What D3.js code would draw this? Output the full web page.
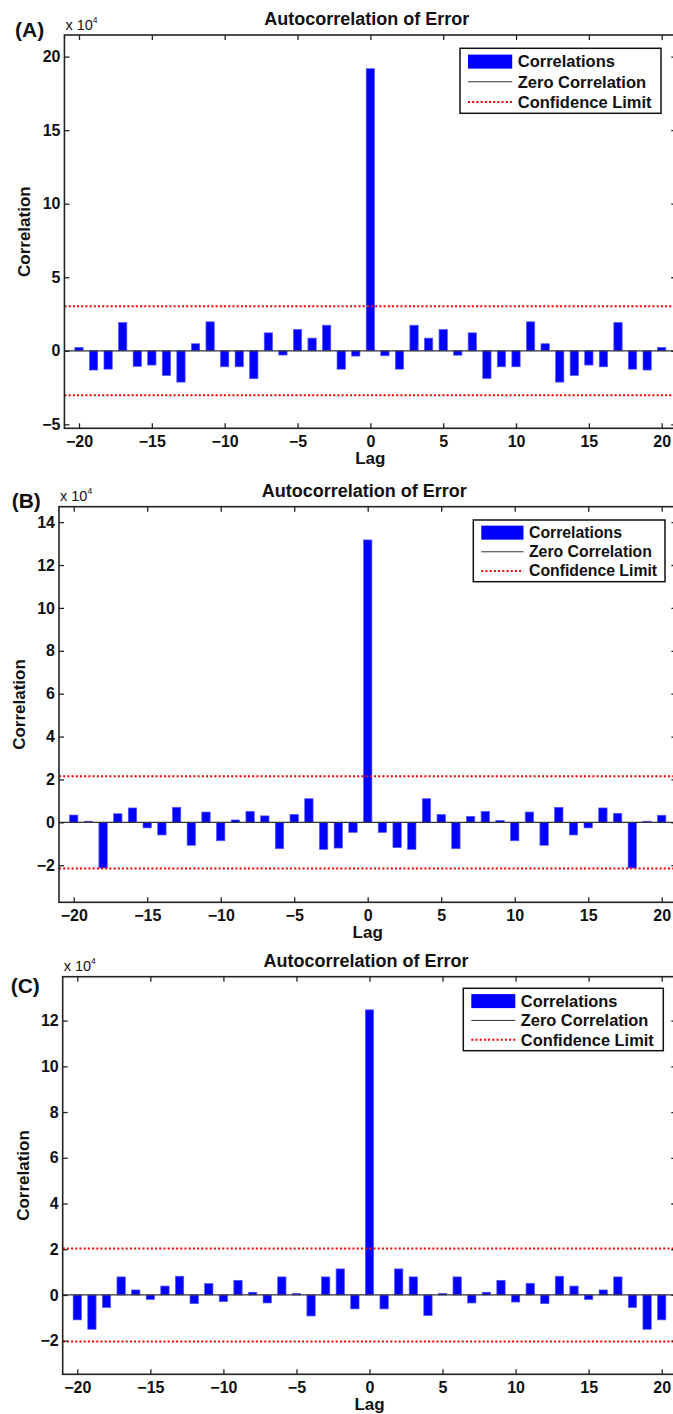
<!DOCTYPE html>
<html>
<head>
<meta charset="utf-8">
<script src="https://cdn.jsdelivr.net/npm/d3@7/dist/d3.min.js"></script>
<style>
  body { margin: 0; background: #fff; }
  text { font-family: "Liberation Sans", Arial, sans-serif; font-weight: bold; fill: #111; }
</style>
</head>
<body>
<svg id="chart" width="673" height="1414"></svg>
<script>
// Lags shown on the x axis
const lags = d3.range(-20, 21);
const xTicks = [-20, -15, -10, -5, 0, 5, 10, 15, 20];

// Autocorrelation values, in units of 10^4
const corrA = [0.23, -1.31, -1.25, 1.92, -1.06, -0.97, -1.68, -2.13, 0.48, 1.97,
               -1.09, -1.09, -1.90, 1.22, -0.29, 1.45, 0.86, 1.74, -1.25, -0.36,
               19.18,
               -0.34, -1.25, 1.74, 0.86, 1.45, -0.30, 1.22, -1.88, -1.09, -1.09,
               1.97, 0.48, -2.13, -1.68, -0.97, -1.09, 1.92, -1.25, -1.31, 0.23];
const corrB = [0.34, 0.05, -2.13, 0.40, 0.67, -0.26, -0.59, 0.70, -1.07, 0.48,
               -0.86, 0.11, 0.51, 0.30, -1.23, 0.37, 1.10, -1.26, -1.20, -0.47,
               13.17,
               -0.47, -1.18, -1.26, 1.10, 0.37, -1.23, 0.28, 0.51, 0.09, -0.86,
               0.48, -1.07, 0.70, -0.59, -0.26, 0.67, 0.42, -2.13, 0.05, 0.33];
const corrC = [-1.09, -1.50, -0.55, 0.79, 0.22, -0.20, 0.39, 0.82, -0.38, 0.50,
               -0.29, 0.64, 0.12, -0.35, 0.79, 0.07, -0.92, 0.79, 1.14, -0.61,
               12.47,
               -0.61, 1.14, 0.79, -0.90, 0.07, 0.79, -0.35, 0.12, 0.64, -0.31,
               0.51, -0.38, 0.82, 0.39, -0.20, 0.22, 0.79, -0.55, -1.50, -1.09];

// Confidence limits (+/-), in units of 10^4
const confLimits = [3.03, 2.15, 2.03];

// Y tick labels per panel
const yTicksA = [-5, 0, 5, 10, 15, 20];
const yTicksB = [-2, 0, 2, 4, 6, 8, 10, 12, 14];
const yTicksC = [-2, 0, 2, 4, 6, 8, 10, 12];

const panelLabels = ["(A)", "(B)", "(C)"];
const legendItems = ["Correlations", "Zero Correlation", "Confidence Limit"];

// layout of each panel (pixels)
const panels = [
  { values: corrA, yTicks: yTicksA, yDomain: [-5.27, 21.47], xPx: [79, 661.7], top: 35, bottom: 428.3,
    letter: [15, 37], legend: { x: 460, y: 48.3, w: 201, h: 65, font: 16.5 } },
  { values: corrB, yTicks: yTicksB, yDomain: [-3.73, 14.72], xPx: [73.7, 661.7], top: 506.7, bottom: 902.3,
    letter: [11.7, 508], legend: { x: 473.3, y: 520, w: 191.7, h: 61.7, font: 15.8 } },
  { values: corrC, yTicks: yTicksC, yDomain: [-3.47, 13.92], xPx: [77.3, 661.7], top: 976.7, bottom: 1374.3,
    letter: [10.7, 993], legend: { x: 463.3, y: 988.3, w: 200, h: 62.4, font: 16.4 } }
];

const svg = d3.select("#chart");

panels.forEach((p, i) => drawPanel(svg.append("g"), p, i));

function drawPanel(g, p, i) {
  const x = d3.scaleLinear().domain([-20, 20]).range(p.xPx);
  const y = d3.scaleLinear().domain(p.yDomain).range([p.bottom, p.top]);
  const left = x(-21), right = x(21);
  const bw = (x(1) - x(0)) * 0.57;
  const conf = confLimits[i];

  // bars
  g.selectAll("rect.bar")
    .data(p.values)
    .join("rect")
    .attr("class", "bar")
    .attr("x", (d, k) => x(lags[k]) - bw / 2)
    .attr("y", d => Math.min(y(d), y(0)))
    .attr("width", bw)
    .attr("height", d => Math.abs(y(d) - y(0)))
    .attr("fill", "#0000ff")
    .attr("stroke", "#5a5aff")
    .attr("stroke-width", 0.7);

  // zero line
  g.append("line")
    .attr("x1", left).attr("x2", right)
    .attr("y1", y(0)).attr("y2", y(0))
    .attr("stroke", "#333").attr("stroke-width", 1.2);

  // confidence limits
  [conf, -conf].forEach(c => {
    g.append("line")
      .attr("x1", left).attr("x2", right)
      .attr("y1", y(c)).attr("y2", y(c))
      .attr("stroke", "#ff0000").attr("stroke-width", 2)
      .attr("stroke-dasharray", "2,2.2");
  });

  // axes, ticks pointing inward
  const axisStyle = a => {
    a.select(".domain").remove();
    a.selectAll(".tick line").attr("stroke", "#222").attr("stroke-width", 1.3);
    a.selectAll("text").attr("font-size", 16).attr("font-family", null).attr("fill", "#111");
  };
  g.append("g").attr("transform", `translate(0,${p.bottom})`)
    .call(d3.axisBottom(x).tickValues(xTicks).tickSize(-5).tickPadding(7).tickFormat(d3.format("d")))
    .call(axisStyle);
  g.append("g").attr("transform", `translate(0,${p.top})`)
    .call(d3.axisTop(x).tickValues(xTicks).tickSize(-5).tickFormat(""))
    .call(axisStyle);
  g.append("g").attr("transform", `translate(${left},0)`)
    .call(d3.axisLeft(y).tickValues(p.yTicks).tickSize(-5).tickPadding(4).tickFormat(d3.format("d")))
    .call(axisStyle);
  g.append("g").attr("transform", `translate(${right},0)`)
    .call(d3.axisRight(y).tickValues(p.yTicks).tickSize(-5).tickFormat(""))
    .call(axisStyle);
  g.selectAll(".tick text").style("font-family", "'Liberation Sans', Arial, sans-serif").style("font-weight", "bold");

  // frame
  g.append("rect")
    .attr("x", left).attr("y", p.top)
    .attr("width", right - left).attr("height", p.bottom - p.top)
    .attr("fill", "none").attr("stroke", "#222").attr("stroke-width", 1.6);

  // title and labels
  g.append("text")
    .attr("x", x(0) - 3.5).attr("y", p.top - 10)
    .attr("text-anchor", "middle").attr("font-size", 18)
    .text("Autocorrelation of Error");
  g.append("text")
    .attr("x", x(0)).attr("y", p.bottom + 36)
    .attr("text-anchor", "middle").attr("font-size", 17)
    .text("Lag");
  g.append("text")
    .attr("transform", `translate(${left - 40},${(p.top + p.bottom) / 2}) rotate(-90)`)
    .attr("text-anchor", "middle").attr("dy", "0.35em").attr("font-size", 17)
    .text("Correlation");

  // exponent label
  const ex = g.append("text")
    .attr("x", left + 1).attr("y", p.top - 5.5)
    .attr("font-size", 14.5).style("font-weight", "normal");
  ex.append("tspan").text("x 10");
  ex.append("tspan").attr("font-size", 8.5).attr("dy", -7).text("4");

  // panel letter
  g.append("text")
    .attr("x", p.letter[0]).attr("y", p.letter[1])
    .attr("font-size", 21)
    .text(panelLabels[i]);

  // legend
  const L = p.legend;
  const lg = g.append("g").attr("transform", `translate(${L.x},${L.y})`);
  lg.append("rect")
    .attr("width", L.w).attr("height", L.h)
    .attr("fill", "#fff").attr("stroke", "#111").attr("stroke-width", 1.5);
  const sw = L.w * 0.22;
  const rowY = k => L.h * 0.205 + k * L.h * 0.31;
  lg.append("rect")
    .attr("x", 8).attr("y", rowY(0) - 7)
    .attr("width", sw).attr("height", 14)
    .attr("fill", "#0000ff");
  lg.append("line")
    .attr("x1", 8).attr("x2", 8 + sw)
    .attr("y1", rowY(1)).attr("y2", rowY(1))
    .attr("stroke", "#333").attr("stroke-width", 1);
  lg.append("line")
    .attr("x1", 8).attr("x2", 8 + sw)
    .attr("y1", rowY(2)).attr("y2", rowY(2))
    .attr("stroke", "#ff0000").attr("stroke-width", 2)
    .attr("stroke-dasharray", "2,2.2");
  lg.selectAll("text.item")
    .data(legendItems)
    .join("text")
    .attr("class", "item")
    .attr("x", 8 + sw + 5.5)
    .attr("y", (d, k) => rowY(k))
    .attr("dy", "0.35em")
    .attr("font-size", L.font)
    .text(d => d);
}
</script>
</body>
</html>
